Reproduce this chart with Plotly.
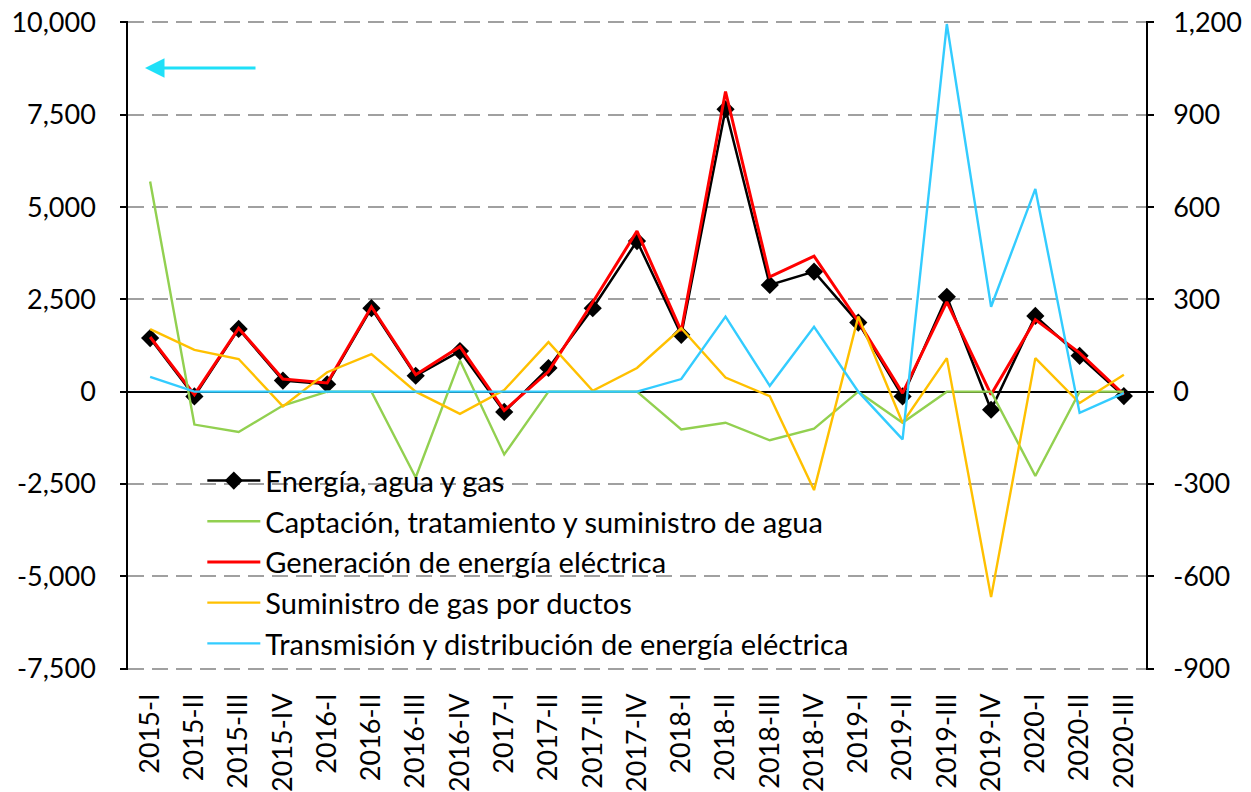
import plotly.graph_objects as go

categories = ["2015-I", "2015-II", "2015-III", "2015-IV", "2016-I", "2016-II", "2016-III", "2016-IV",
              "2017-I", "2017-II", "2017-III", "2017-IV", "2018-I", "2018-II", "2018-III", "2018-IV",
              "2019-I", "2019-II", "2019-III", "2019-IV", "2020-I", "2020-II", "2020-III"]

# Left axis series
energia_agua_gas = [1450, -130, 1700, 300, 200, 2260, 430, 1100, -550, 640, 2260, 4080, 1540, 7650,
                    2890, 3250, 1870, -130, 2570, -490, 2050, 970, -120]
generacion = [1480, -80, 1720, 340, 235, 2300, 460, 1220, -510, 545, 2420, 4350, 1640, 8130,
              3110, 3670, 1900, -40, 2430, -80, 1950, 1050, -80]

# Right axis series
captacion = [683, -107, -131, -45, 0, 0, -279, 101, -204, 0, 0, 0, -123, -101,
             -158, -120, 0, -101, 0, 0, -274, 0, 0]
suministro_gas = [203, 136, 106, -48, 63, 122, 0, -72, 5, 161, 3, 77, 206, 46,
                  -15, -320, 244, -101, 109, -668, 109, -37, 55]
transmision = [48, 0, 0, 0, 0, 0, 0, 0, 0, 0, 0, 0, 41, 244,
               19, 211, 0, -155, 1195, 276, 659, -69, -5]

left_tickvals = [10000, 7500, 5000, 2500, 0, -2500, -5000, -7500]
left_ticktext = ["10,000", "7,500", "5,000", "2,500", "0", "-2,500", "-5,000", "-7,500"]
right_tickvals = [1200, 900, 600, 300, 0, -300, -600, -900]
right_ticktext = ["1,200", "900", "600", "300", "0", "-300", "-600", "-900"]

FONT = "Lato"
PAD_L = 40            # small padding so end gridlines are kept
PAD_R = PAD_L / (17500 / 2100)

fig = go.Figure()
fig.add_trace(go.Scatter(x=categories, y=energia_agua_gas, name="Energía, agua y gas",
                         mode="lines+markers", line=dict(color="#000000", width=2.5),
                         marker=dict(symbol="diamond", size=14, color="#000000"),
                         yaxis="y"))
fig.add_trace(go.Scatter(x=categories, y=captacion, name="Captación, tratamiento y suministro de agua",
                         mode="lines", line=dict(color="#92D050", width=2.4),
                         yaxis="y2"))
fig.add_trace(go.Scatter(x=categories, y=generacion, name="Generación de energía eléctrica",
                         mode="lines", line=dict(color="#FF0000", width=3),
                         yaxis="y"))
fig.add_trace(go.Scatter(x=categories, y=suministro_gas, name="Suministro de gas por ductos",
                         mode="lines", line=dict(color="#FFC000", width=2.4),
                         yaxis="y2"))
fig.add_trace(go.Scatter(x=categories, y=transmision, name="Transmisión y distribución de energía eléctrica",
                         mode="lines", line=dict(color="#33CCFF", width=2.4),
                         yaxis="y2"))

fig.update_layout(
    width=1251, height=792,
    margin=dict(l=128, r=105, t=21, b=122),
    paper_bgcolor="white", plot_bgcolor="white",
    font=dict(family=FONT, color="black", size=25),
    xaxis=dict(type="category", categoryorder="array", categoryarray=categories,
               range=[-0.5, len(categories) - 0.5], showgrid=False, showline=False,
               zeroline=False, ticks="", tickangle=-90, tickfont=dict(size=27),
               ticklabelstandoff=17, automargin=False),
    yaxis=dict(range=[-7500 - PAD_L, 10000 + PAD_L], tickvals=left_tickvals, ticktext=left_ticktext,
               tickfont=dict(size=27), showgrid=True, gridcolor="#A0A0A0", gridwidth=1.5,
               griddash="16px,8px", zeroline=True, zerolinecolor="black", zerolinewidth=1.5,
               showline=True, linecolor="black", linewidth=1.5, ticks="outside",
               ticklen=6, tickcolor="black", tickwidth=1.5, ticklabelstandoff=19,
               automargin=False),
    yaxis2=dict(range=[-900 - PAD_R, 1200 + PAD_R], tickvals=right_tickvals, ticktext=right_ticktext,
                tickfont=dict(size=27), overlaying="y", side="right", showgrid=False,
                zeroline=False, showline=True, linecolor="black", linewidth=1.5,
                ticks="outside", ticklen=6, tickcolor="black", tickwidth=1.5,
                ticklabelstandoff=14, automargin=False),
    legend=dict(x=0.073, y=0.331, xanchor="left", yanchor="top", bgcolor="rgba(0,0,0,0)",
                font=dict(size=29, family=FONT), itemwidth=53,
                traceorder="normal"),
    showlegend=True,
)

fig.add_annotation(x=0.0167, y=0.9276, xref="paper", yref="paper", ax=112, ay=0,
                   axref="pixel", ayref="pixel", showarrow=True, arrowhead=2,
                   arrowsize=1.3, arrowwidth=3, arrowcolor="#1FE0F8", text="")

fig.write_html("out.html", config={"displayModeBar": False},
               post_script="document.body.style.margin='0px';")
